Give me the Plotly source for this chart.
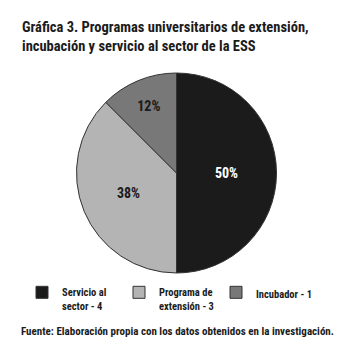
import plotly.graph_objects as go

categories = ["Servicio al<br>sector - 4", "Programa de<br>extensión - 3", "Incubador - 1"]
counts = [4, 3, 1]
pct_labels = ["50%", "38%", "12%"]
colors = ["#1b1b1b", "#b4b4b4", "#787878"]
text_colors = ["#ffffff", "#1b1b1b", "#1b1b1b"]

title_text = "Gráfica 3. Programas universitarios de extensión,<br>incubación y servicio al sector de la ESS"
source_text = "Fuente: Elaboración propia con los datos obtenidos en la investigación."

FONT = "Roboto Condensed, DejaVu Sans Condensed, sans-serif"
W = H = 354

fig = go.Figure(go.Pie(
    labels=categories,
    values=counts,
    text=pct_labels,
    textinfo="text",
    textposition="inside",
    insidetextorientation="horizontal",
    textfont=dict(family=FONT, size=14, color=text_colors, weight="bold"),
    marker=dict(colors=colors, line=dict(color="#333333", width=1)),
    sort=False,
    direction="clockwise",
    rotation=0,
    hole=0,
    domain=dict(x=[76 / W, 277 / W], y=[(H - 273) / H, (H - 73) / H]),
))

fig.update_layout(
    width=W, height=H,
    margin=dict(l=0, r=0, t=0, b=0),
    paper_bgcolor="white",
    plot_bgcolor="white",
    showlegend=True,
    legend=dict(
        orientation="h",
        x=22 / W, xanchor="left",
        y=(H - 279) / H, yanchor="top",
        valign="top",
        font=dict(family=FONT, size=10.5, color="#1b1b1b", weight="bold"),
        entrywidth=52,
        itemwidth=30,
        tracegroupgap=0,
    ),
    annotations=[
        dict(text=title_text, x=20 / W, y=1 - 17 / H, xref="paper", yref="paper",
             xanchor="left", yanchor="top", align="left", showarrow=False,
             font=dict(family=FONT, size=14.5, color="#1b1b1b", weight="bold")),
        dict(text=source_text, x=177 / W, y=1 - 331 / H, xref="paper", yref="paper",
             xanchor="center", yanchor="middle", showarrow=False,
             font=dict(family=FONT, size=11, color="#1b1b1b", weight="bold")),
    ],
)

fig.write_html("out.html")
